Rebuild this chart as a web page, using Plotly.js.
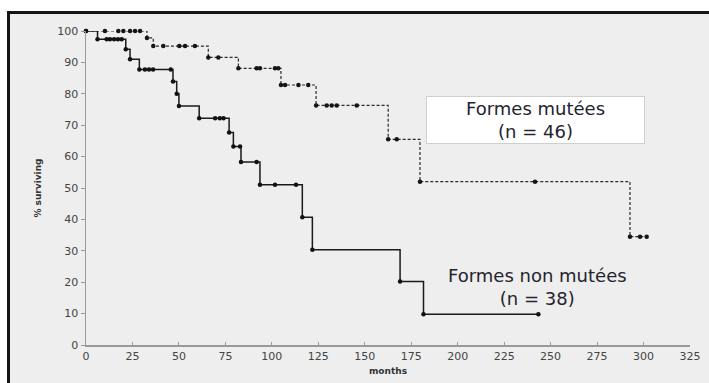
<!DOCTYPE html>
<html>
<head>
<meta charset="utf-8">
<script src="https://cdn.plot.ly/plotly-3.0.1.min.js"></script>
<style>
  html, body { margin: 0; padding: 0; background: #ffffff; }
  #wrap { position: relative; width: 709px; height: 383px; overflow: hidden; }
  #frame { position: absolute; left: 7px; top: 11px; width: 702px; height: 372px;
           background: #eeeeee; border-left: 3px solid #151515; border-top: 3px solid #151515; }
  #chart { position: absolute; left: 0; top: 0; width: 709px; height: 383px; }
</style>
</head>
<body>
<div id="wrap">
  <div id="frame"></div>
  <div id="chart"></div>
</div>
<script>
// Formes mutées (n = 46): time (months) and % surviving
const mutMonths = [0, 10.2, 17.4, 20.1, 23.7, 26.4, 29.1, 32.8, 36.2, 41.6, 50.2, 53.3, 58.6,
  65.8, 71.2, 82.0, 91.8, 93.6, 101.7, 103.5, 104.9, 107.1, 114.3, 119.6, 123.8, 129.5, 132.2,
  134.9, 145.7, 162.6, 167.2, 179.7, 241.6, 292.7, 298.1, 301.7];
const mutSurv = [100, 100, 100, 100, 100, 100, 100, 97.8, 95.2, 95.2, 95.2, 95.2, 95.2,
  91.6, 91.6, 88.1, 88.1, 88.1, 88.1, 88.1, 82.8, 82.8, 82.8, 82.8, 76.3, 76.3, 76.3,
  76.3, 76.3, 65.5, 65.5, 52.0, 52.0, 34.5, 34.5, 34.5];

// Formes non mutées (n = 38)
const nonMonths = [0, 6.2, 11.1, 12.9, 15.1, 17.2, 19.2, 21.4, 23.7, 28.7, 31.7, 33.9, 36.1,
  45.6, 46.8, 48.8, 50.0, 60.9, 69.5, 72.0, 74.0, 77.0, 79.3, 82.9, 83.4, 91.8, 93.6, 101.7,
  113.0, 116.4, 121.8, 169.0, 181.6, 243.4];
const nonSurv = [100, 97.4, 97.4, 97.4, 97.4, 97.4, 97.4, 94.2, 91.0, 87.7, 87.7, 87.7, 87.7,
  87.7, 83.9, 80.0, 76.1, 72.2, 72.2, 72.2, 72.2, 67.7, 63.2, 63.2, 58.3, 58.3, 51.0, 51.0,
  51.0, 40.7, 30.3, 20.2, 9.8, 9.8];

const xTicks = [0, 25, 50, 75, 100, 125, 150, 175, 200, 225, 250, 275, 300, 325];
const yTicks = [0, 10, 20, 30, 40, 50, 60, 70, 80, 90, 100];

const labelMut = 'Formes mutées<br>(n = 46)';
const labelNon = 'Formes non mutées<br>(n = 38)';

const traces = [
  {
    x: mutMonths, y: mutSurv, type: 'scatter', mode: 'lines+markers',
    line: { shape: 'hv', color: '#2a2a2a', width: 1.2, dash: '3px,2px' },
    marker: { color: '#151515', size: 4.5, symbol: 'circle' },
    cliponaxis: false, hoverinfo: 'x+y'
  },
  {
    x: nonMonths, y: nonSurv, type: 'scatter', mode: 'lines+markers',
    line: { shape: 'hv', color: '#1a1a1a', width: 1.5 },
    marker: { color: '#111111', size: 4.5, symbol: 'circle' },
    cliponaxis: false, hoverinfo: 'x+y'
  }
];

const layout = {
  width: 709, height: 383,
  margin: { l: 86, r: 19, t: 31, b: 38, pad: 0 },
  paper_bgcolor: 'rgba(0,0,0,0)',
  plot_bgcolor: 'rgba(0,0,0,0)',
  showlegend: false,
  font: { family: 'DejaVu Sans, sans-serif', color: '#444444' },
  xaxis: {
    range: [0, 325], tickvals: xTicks, ticktext: xTicks.map(String),
    showgrid: false, zeroline: false, showline: true, linecolor: '#999999', linewidth: 1.5,
    ticks: 'inside', ticklen: 3, tickcolor: '#999999', tickwidth: 1,
    tickfont: { size: 11, color: '#444444' },
    title: { text: '<b>months</b>', font: { size: 9, color: '#333333' }, standoff: 6 },
    automargin: false
  },
  yaxis: {
    range: [0, 100], tickvals: yTicks, ticktext: yTicks.map(String),
    showgrid: false, zeroline: false, showline: true, linecolor: '#999999', linewidth: 1.5,
    ticks: 'outside', ticklen: 4, tickcolor: '#999999', tickwidth: 1,
    tickfont: { size: 11, color: '#444444' },
    title: { text: '<b>% surviving</b>', font: { size: 9, color: '#333333' }, standoff: 14 },
    automargin: false
  },
  annotations: [
    {
      x: 241.6, y: 71.7, xref: 'x', yref: 'y', text: labelMut, showarrow: false,
      font: { family: 'DejaVu Sans, sans-serif', size: 18, color: '#24242e' },
      bgcolor: '#ffffff', bordercolor: '#cfcfcf', borderwidth: 1,
      width: 215, height: 44, align: 'center'
    },
    {
      x: 243.2, y: 18.5, xref: 'x', yref: 'y', text: labelNon, showarrow: false,
      font: { family: 'DejaVu Sans, sans-serif', size: 18, color: '#24242e' },
      align: 'center'
    }
  ]
};

Plotly.newPlot('chart', traces, layout, { displayModeBar: false, staticPlot: true });
</script>
</body>
</html>
